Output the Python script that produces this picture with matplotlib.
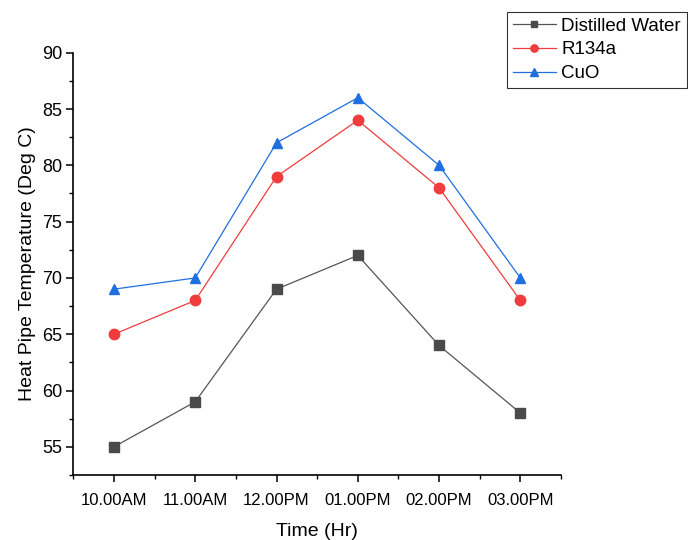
import matplotlib
matplotlib.use("Agg")
import matplotlib.pyplot as plt
from matplotlib.ticker import MultipleLocator

plt.rcParams['font.family'] = ['Liberation Sans', 'DejaVu Sans']

times = ["10.00AM", "11.00AM", "12.00PM", "01.00PM", "02.00PM", "03.00PM"]
distilled = [55, 59, 69, 72, 64, 58]
r134a = [65, 68, 79, 84, 78, 68]
cuo = [69, 70, 82, 86, 80, 70]

fig = plt.figure(figsize=(6.88, 5.4), dpi=100)
ax = fig.add_axes([0.1066, 0.1204, 0.7088, 0.782])

x = list(range(len(times)))
ax.plot(x, distilled, color='#555555', lw=0.9, marker='s', ms=7, mfc='#4a4a4a', mec='#4a4a4a', label='Distilled Water')
ax.plot(x, r134a, color='#f03c3c', lw=0.9, marker='o', ms=7.5, mfc='#f03c3c', mec='#f03c3c', label='R134a')
ax.plot(x, cuo, color='#1f6fe0', lw=0.9, marker='^', ms=7.5, mfc='#1f6fe0', mec='#1f6fe0', label='CuO')

ax.set_xlim(-0.5, 5.5)
ax.set_ylim(52.5, 90)
ax.set_xticks(x)
ax.set_xticklabels(times)
ax.xaxis.set_minor_locator(MultipleLocator(0.5))
ax.yaxis.set_minor_locator(MultipleLocator(2.5))
ax.set_yticks([55, 60, 65, 70, 75, 80, 85, 90])

for s in ['top', 'right']:
    ax.spines[s].set_visible(False)
for s in ['left', 'bottom']:
    ax.spines[s].set_linewidth(1.2)

ax.tick_params(axis='both', which='major', direction='out', length=5, width=1.1, colors='black')
ax.tick_params(axis='both', which='minor', direction='out', length=3, width=1.0)
ax.tick_params(axis='x', labelsize=12, pad=8)
ax.tick_params(axis='y', labelsize=13, pad=3)

ax.set_xlabel('Time (Hr)', fontsize=14, labelpad=11)
ax.set_ylabel('Heat Pipe Temperature (Deg C)', fontsize=14, labelpad=4)

leg = fig.legend(loc='upper left', bbox_to_anchor=(507/688, 1 - 12/540), fontsize=13.5,
                 frameon=True, fancybox=False, shadow=False, handlelength=2.3,
                 borderpad=0.3, labelspacing=0.35, handletextpad=0.3, borderaxespad=0,
                 markerscale=0.7)
leg.get_frame().set_edgecolor('black')
leg.get_frame().set_linewidth(0.8)

fig.savefig('out.png', dpi=100)
